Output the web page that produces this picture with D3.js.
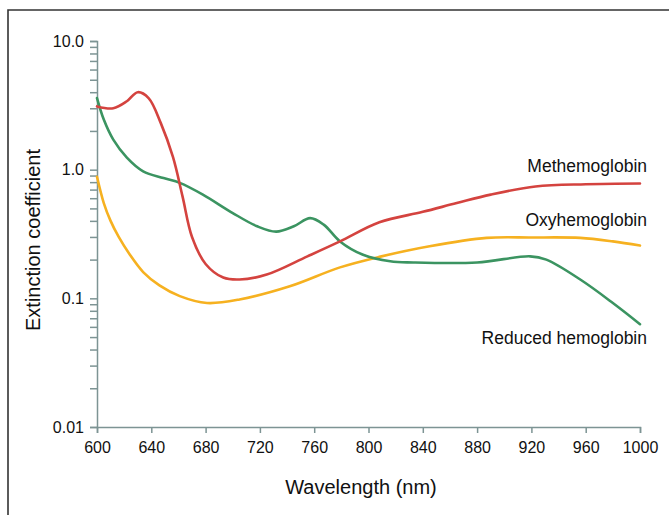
<!DOCTYPE html>
<html>
<head>
<meta charset="utf-8">
<script src="https://cdn.jsdelivr.net/npm/d3@7"></script>
<style>
  html, body { margin: 0; padding: 0; background: #fff; }
  svg { display: block; font-family: "Liberation Sans", Arial, sans-serif; }
</style>
</head>
<body>
<svg id="chart" width="669" height="515"></svg>
<script>
// ---- data ----
const seriesNames = ["Methemoglobin", "Oxyhemoglobin", "Reduced hemoglobin"];
const methWavelength = [600, 612, 622, 630, 638, 647, 656, 663, 670, 680, 693, 705, 725, 755, 779, 808, 840, 865, 890, 923, 960, 1000];
const methValues     = [3.1, 3.0, 3.4, 4.0, 3.6, 2.3, 1.25, 0.62, 0.3, 0.185, 0.145, 0.14, 0.153, 0.212, 0.277, 0.39, 0.47, 0.55, 0.64, 0.74, 0.77, 0.78];
const oxyWavelength  = [600, 605, 610, 616, 624, 634, 646, 661, 681, 705, 742, 779, 808, 845, 887, 920, 956, 980, 1000];
const oxyValues      = [0.88, 0.55, 0.40, 0.30, 0.22, 0.16, 0.126, 0.104, 0.092, 0.098, 0.124, 0.174, 0.21, 0.254, 0.295, 0.297, 0.295, 0.277, 0.257];
const redWavelength  = [600, 605, 612, 622, 634, 649, 661, 678, 700, 718, 732, 745, 757, 767, 779, 796, 816, 833, 880, 919, 931, 956, 980, 1000];
const redValues      = [3.6, 2.45, 1.71, 1.24, 0.97, 0.86, 0.79, 0.64, 0.46, 0.363, 0.33, 0.363, 0.42, 0.374, 0.277, 0.218, 0.194, 0.19, 0.19, 0.212, 0.2, 0.14, 0.092, 0.063];
const xTicks = [600, 640, 680, 720, 760, 800, 840, 880, 920, 960, 1000];
const yTickLabels = [[10, "10.0"], [1, "1.0"], [0.1, "0.1"], [0.01, "0.01"]];
const xTitle = "Wavelength (nm)";
const yTitle = "Extinction coefficient";

// ---- layout ----
const svg = d3.select("#chart");
const pLeft = 97, pRight = 640, pTop = 41, pBottom = 427;
const x = d3.scaleLinear().domain([600, 1000]).range([pLeft, pRight]);
const y = d3.scaleLog().domain([0.01, 10]).range([pBottom, pTop]);
const axisColor = "#7d9494";

// frame
svg.append("path").attr("d", "M8,515 V10 H669")
  .attr("fill", "none").attr("stroke", "#333").attr("stroke-width", 1.6);

// y axis with minor ticks
const yMinor = [];
for (let d = 0.01; d < 10; d *= 10) for (let k = 1; k <= 10; k++) yMinor.push(+(d * k).toPrecision(3));
const yAxis = d3.axisLeft(y).tickValues(Array.from(new Set(yMinor))).tickSize(7).tickFormat("");
const gy = svg.append("g").attr("transform", `translate(${pLeft},0)`).call(yAxis);
gy.select(".domain").attr("stroke", axisColor).attr("stroke-width", 1.5);
gy.selectAll(".tick line").attr("stroke", axisColor).attr("stroke-width", 1.5);

svg.append("g").selectAll("text").data(yTickLabels).join("text")
  .attr("x", pLeft - 13).attr("y", d => y(d[0]))
  .attr("dy", "0.35em").attr("text-anchor", "end")
  .attr("font-size", 16).attr("fill", "#111").text(d => d[1]);

// x axis
const xAxis = d3.axisBottom(x).tickValues(xTicks).tickSize(6).tickPadding(9).tickFormat(d3.format("d"));
const gx = svg.append("g").attr("transform", `translate(0,${pBottom})`).call(xAxis);
gx.select(".domain").attr("stroke", axisColor).attr("stroke-width", 1.5);
gx.selectAll(".tick line").attr("stroke", axisColor).attr("stroke-width", 1.5);
gx.selectAll(".tick text").attr("font-size", 16).attr("fill", "#111")
  .attr("font-family", "Liberation Sans, Arial, sans-serif");

// titles
svg.append("text").attr("x", 361).attr("y", 494).attr("text-anchor", "middle")
  .attr("font-size", 20).attr("fill", "#111").text(xTitle);
svg.append("text").attr("transform", "translate(40,240) rotate(-90)")
  .attr("text-anchor", "middle").attr("font-size", 20).attr("fill", "#111").text(yTitle);

// lines
const line = d3.line().x(d => x(d[0])).y(d => y(d[1])).curve(d3.curveCatmullRom.alpha(0.5));
const series = [
  { name: seriesNames[0], w: methWavelength, v: methValues, color: "#d4433f", lx: 647, ly: 172 },
  { name: seriesNames[1], w: oxyWavelength, v: oxyValues, color: "#f6b120", lx: 647, ly: 226 },
  { name: seriesNames[2], w: redWavelength, v: redValues, color: "#3b9461", lx: 647, ly: 344 }
];
const drawOrder = [1, 2, 0];
drawOrder.forEach(i => {
  const s = series[i];
  svg.append("path").datum(s.w.map((w, j) => [w, s.v[j]]))
    .attr("fill", "none").attr("stroke", s.color).attr("stroke-width", 2.6)
    .attr("stroke-linejoin", "round").attr("stroke-linecap", "round")
    .attr("d", line);
});
series.forEach(s => {
  svg.append("text").attr("x", s.lx).attr("y", s.ly).attr("text-anchor", "end")
    .attr("font-size", 17.5).attr("fill", "#111").text(s.name);
});
</script>
</body>
</html>
